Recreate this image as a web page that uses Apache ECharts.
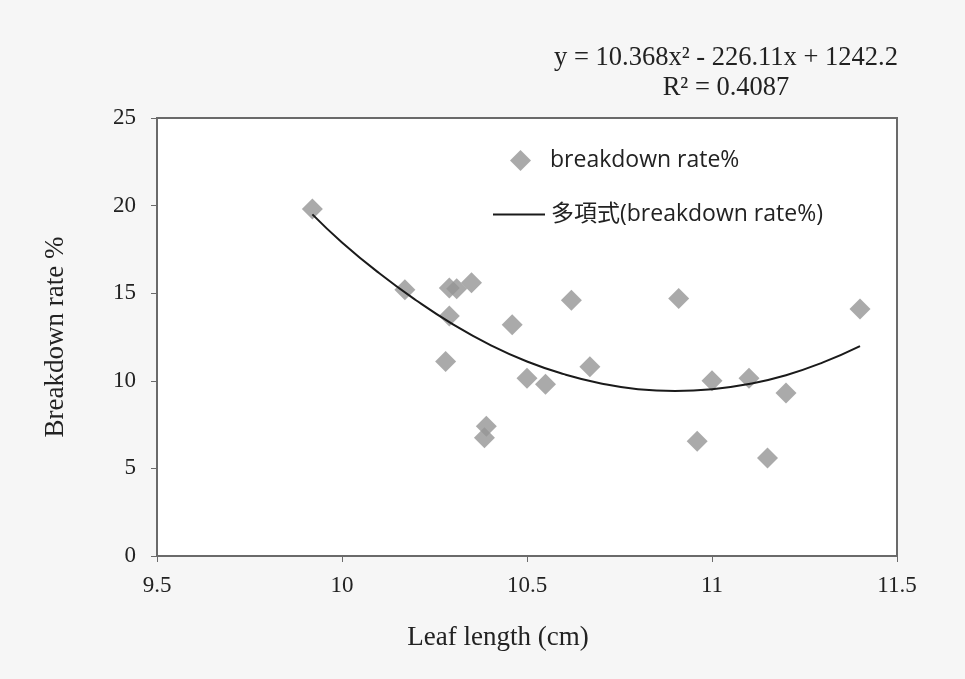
<!DOCTYPE html>
<html>
<head>
<meta charset="utf-8">
<script src="https://cdn.jsdelivr.net/npm/echarts@6/dist/echarts.min.js"></script>
<style>
html,body{margin:0;padding:0;background:#f6f6f6;}
#c{width:965px;height:679px;}
</style>
</head>
<body>
<div id="c"></div>
<script>
const leafLength = [9.92, 10.17, 10.29, 10.31, 10.35, 10.29, 10.28, 10.46, 10.62, 10.67, 10.50, 10.55, 10.39, 10.385, 10.91, 10.96, 11.00, 11.10, 11.20, 11.15, 11.40];
const breakdownRate = [19.8, 15.2, 15.3, 15.25, 15.6, 13.7, 11.1, 13.2, 14.6, 10.8, 10.15, 9.8, 7.4, 6.75, 14.7, 6.55, 10.0, 10.15, 9.3, 5.6, 14.1];
const trendX = [9.92, 10.0, 10.1, 10.2, 10.3, 10.4, 10.5, 10.6, 10.7, 10.8, 10.9, 11.0, 11.1, 11.2, 11.3, 11.4];
const trendY = [19.5, 17.9, 16.15, 14.6, 13.22, 12.05, 11.1, 10.38, 9.85, 9.52, 9.42, 9.52, 9.82, 10.32, 11.05, 11.98];
const xTicks = [9.5, 10, 10.5, 11, 11.5];
const yTicks = [0, 5, 10, 15, 20, 25];
const equationText = 'y = 10.368x² - 226.11x + 1242.2';
const r2Text = 'R² = 0.4087';

const chart = echarts.init(document.getElementById('c'));
const serif = '"Liberation Serif", "DejaVu Serif", serif';
const sans = '"Open Sans", "Noto Sans CJK TC", sans-serif';
chart.setOption({
  backgroundColor: '#f6f6f6',
  animation: false,
  grid: {left: 157, right: 68, top: 118, bottom: 123, show: true, backgroundColor: '#ffffff', borderColor: '#6a6a6a', borderWidth: 2},
  xAxis: {
    type: 'value', min: xTicks[0], max: xTicks[xTicks.length - 1], interval: 0.5,
    axisLine: {show: true, onZero: false, lineStyle: {color: '#6a6a6a', width: 2}},
    axisTick: {show: true, length: 6, lineStyle: {color: '#6a6a6a', width: 1}},
    splitLine: {show: false},
    axisLabel: {fontFamily: serif, fontSize: 23, color: '#222', margin: 18,
      formatter: v => String(v)},
    name: 'Leaf length (cm)', nameLocation: 'middle', nameGap: 68,
    nameTextStyle: {fontFamily: serif, fontSize: 27, color: '#222', padding: [0, 58, 0, 0]}
  },
  yAxis: {
    type: 'value', min: yTicks[0], max: yTicks[yTicks.length - 1], interval: 5,
    axisLine: {show: true, lineStyle: {color: '#6a6a6a', width: 2}},
    axisTick: {show: true, length: 6, lineStyle: {color: '#6a6a6a', width: 1}},
    splitLine: {show: false},
    axisLabel: {fontFamily: serif, fontSize: 23, color: '#222', margin: 21},
    name: 'Breakdown rate %', nameLocation: 'middle', nameGap: 88, nameRotate: 90,
    nameTextStyle: {fontFamily: serif, fontSize: 27, color: '#222'}
  },
  legend: [
    {data: [{name: 'breakdown rate%', icon: 'diamond'}], left: 505, top: 144, itemWidth: 21, itemHeight: 21,
      textStyle: {fontFamily: sans, fontSize: 23, color: '#222', padding: [0, 0, 0, 14]}},
    {data: [{name: '多項式(breakdown rate%)', icon: 'rect'}], left: 488, top: 198, itemWidth: 52, itemHeight: 2,
      textStyle: {fontFamily: sans, fontSize: 23, color: '#222', padding: [0, 0, 0, 1]}}
  ],
  graphic: [
    {type: 'text', x: 726, y: 58, style: {text: equationText, font: '26.5px ' + serif, fill: '#222', align: 'center', verticalAlign: 'middle'}},
    {type: 'text', x: 726, y: 88, style: {text: r2Text, font: '26.5px ' + serif, fill: '#222', align: 'center', verticalAlign: 'middle'}}
  ],
  series: [
    {name: 'breakdown rate%', type: 'scatter', symbol: 'diamond', symbolSize: 21,
      itemStyle: {color: '#959595'},
      data: leafLength.map((x, i) => [x, breakdownRate[i]]), z: 3},
    {name: '多項式(breakdown rate%)', type: 'line', smooth: true, symbol: 'none', showSymbol: false,
      lineStyle: {color: '#1a1a1a', width: 2}, itemStyle: {color: '#1a1a1a'},
      data: trendX.map((x, i) => [x, trendY[i]]), z: 4}
  ]
});
</script>
</body>
</html>
